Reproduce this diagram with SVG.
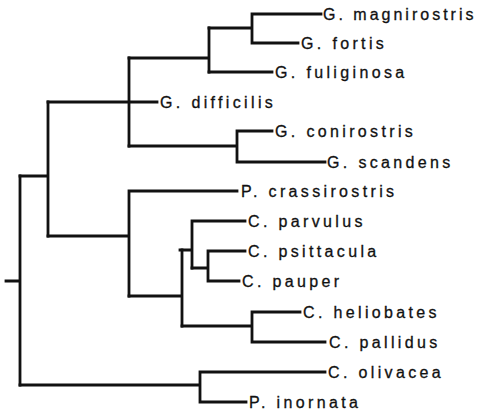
<svg xmlns="http://www.w3.org/2000/svg" width="481" height="412" viewBox="0 0 481 412">
<style>
.e{fill:none;stroke:#111;stroke-width:2.8;stroke-linecap:square;stroke-linejoin:miter}
.t{font-family:"Liberation Sans",Arial,sans-serif;font-size:16px;letter-spacing:3.35px;fill:#111;stroke:#111;stroke-width:0.3}
</style>
<rect width="481" height="412" fill="#fff"/>
<g id="connectors" class="e">
<path d="M6 281H20M20 176V385"/>
<path d="M20 176H48M48 102V236"/>
<path d="M48 102H157M129 58V146"/>
<path d="M129 58H209M209 28V72"/>
<path d="M209 28H252M252 14V43M252 14H321M252 43H298"/>
<path d="M209 72H272"/>
<path d="M129 146H237M237 131V162M237 131H272M237 162H325"/>
<path d="M48 236H129M129 191V296M129 191H237"/>
<path d="M129 296H182M182 250V326"/>
<path d="M180 250H192M192 221V268M192 221H245"/>
<path d="M192 268H208M208 251V281M208 251H245M208 281H239"/>
<path d="M182 326H252M252 312V342M252 312H300M252 342H325"/>
<path d="M20 385H200M200 372V402M200 372H325M200 402H246"/>
</g>
<g id="n-magnirostris"><text class="t" x="323" y="20" style="letter-spacing:3px">G. magnirostris</text></g>
<g id="n-fortis"><text class="t" x="301" y="49">G. fortis</text></g>
<g id="n-fuliginosa"><text class="t" x="275" y="78">G. fuliginosa</text></g>
<g id="n-difficilis"><text class="t" x="160" y="108">G. difficilis</text></g>
<g id="n-conirostris"><text class="t" x="275" y="137">G. conirostris</text></g>
<g id="n-scandens"><text class="t" x="327" y="168">G. scandens</text></g>
<g id="n-crassirostris"><text class="t" x="241" y="197">P. crassirostris</text></g>
<g id="n-parvulus"><text class="t" x="248" y="227">C. parvulus</text></g>
<g id="n-psittacula"><text class="t" x="248" y="257">C. psittacula</text></g>
<g id="n-pauper"><text class="t" x="242" y="287">C. pauper</text></g>
<g id="n-heliobates"><text class="t" x="303" y="318">C. heliobates</text></g>
<g id="n-pallidus"><text class="t" x="329" y="348">C. pallidus</text></g>
<g id="n-olivacea"><text class="t" x="328" y="378">C. olivacea</text></g>
<g id="n-inornata"><text class="t" x="249" y="408">P. inornata</text></g>
</svg>
